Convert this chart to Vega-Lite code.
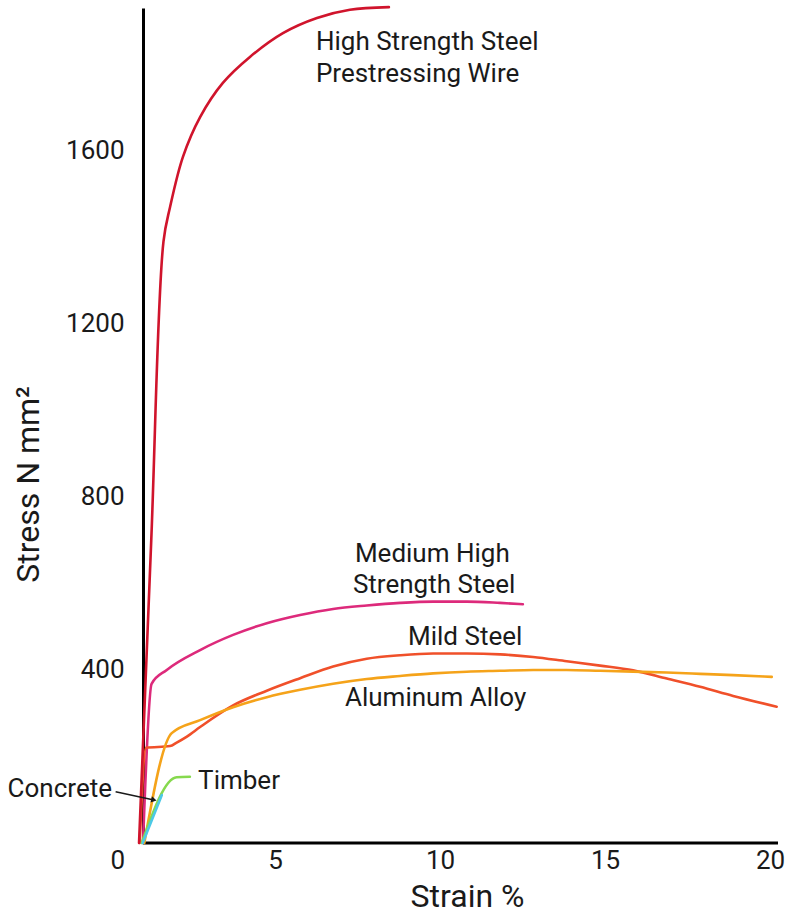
{
  "$schema": "https://vega.github.io/schema/vega-lite/v6.json",
  "width": 668,
  "height": 835,
  "autosize": {"type": "none"},
  "padding": {"left": 110, "top": 8, "right": 12, "bottom": 80},
  "background": "white",
  "config": {
    "view": {"stroke": null},
    "font": "Roboto",
    "axis": {"grid": false, "ticks": false, "tickSize": 0, "domainColor": "#000000", "domainWidth": 3, "labelFont": "Roboto", "labelFontSize": 26, "labelColor": "#1a1a1a", "titleFont": "Roboto", "titleFontSize": 32, "titleFontWeight": "normal", "titleColor": "#1a1a1a"}
  },
  "datasets": {
    "curves": [
      {"material": "High Strength Steel Prestressing Wire", "strain": 0.88, "stress": 0},
      {"material": "High Strength Steel Prestressing Wire", "strain": 1.25, "stress": 700},
      {"material": "High Strength Steel Prestressing Wire", "strain": 1.62, "stress": 1390},
      {"material": "High Strength Steel Prestressing Wire", "strain": 1.82, "stress": 1470},
      {"material": "High Strength Steel Prestressing Wire", "strain": 2.21, "stress": 1586},
      {"material": "High Strength Steel Prestressing Wire", "strain": 2.73, "stress": 1678},
      {"material": "High Strength Steel Prestressing Wire", "strain": 3.42, "stress": 1757},
      {"material": "High Strength Steel Prestressing Wire", "strain": 4.24, "stress": 1817},
      {"material": "High Strength Steel Prestressing Wire", "strain": 5.24, "stress": 1872},
      {"material": "High Strength Steel Prestressing Wire", "strain": 6.27, "stress": 1907},
      {"material": "High Strength Steel Prestressing Wire", "strain": 7.27, "stress": 1926},
      {"material": "High Strength Steel Prestressing Wire", "strain": 8.45, "stress": 1932},
      {"material": "Medium High Strength Steel", "strain": 1.0, "stress": 0},
      {"material": "Medium High Strength Steel", "strain": 1.26, "stress": 368},
      {"material": "Medium High Strength Steel", "strain": 1.72, "stress": 400},
      {"material": "Medium High Strength Steel", "strain": 2.73, "stress": 446},
      {"material": "Medium High Strength Steel", "strain": 3.73, "stress": 481},
      {"material": "Medium High Strength Steel", "strain": 4.75, "stress": 508},
      {"material": "Medium High Strength Steel", "strain": 5.76, "stress": 527},
      {"material": "Medium High Strength Steel", "strain": 6.76, "stress": 541},
      {"material": "Medium High Strength Steel", "strain": 7.78, "stress": 549},
      {"material": "Medium High Strength Steel", "strain": 8.79, "stress": 555},
      {"material": "Medium High Strength Steel", "strain": 9.79, "stress": 558},
      {"material": "Medium High Strength Steel", "strain": 10.82, "stress": 558},
      {"material": "Medium High Strength Steel", "strain": 11.82, "stress": 555},
      {"material": "Medium High Strength Steel", "strain": 12.51, "stress": 552},
      {"material": "Mild Steel", "strain": 0.9, "stress": 0},
      {"material": "Mild Steel", "strain": 1.09, "stress": 220},
      {"material": "Mild Steel", "strain": 1.82, "stress": 224},
      {"material": "Mild Steel", "strain": 2.02, "stress": 232},
      {"material": "Mild Steel", "strain": 2.33, "stress": 246},
      {"material": "Mild Steel", "strain": 2.73, "stress": 268},
      {"material": "Mild Steel", "strain": 3.73, "stress": 318},
      {"material": "Mild Steel", "strain": 4.75, "stress": 352},
      {"material": "Mild Steel", "strain": 5.76, "stress": 381},
      {"material": "Mild Steel", "strain": 6.76, "stress": 408},
      {"material": "Mild Steel", "strain": 7.78, "stress": 426},
      {"material": "Mild Steel", "strain": 8.79, "stress": 434},
      {"material": "Mild Steel", "strain": 9.79, "stress": 438},
      {"material": "Mild Steel", "strain": 10.81, "stress": 438},
      {"material": "Mild Steel", "strain": 11.82, "stress": 436},
      {"material": "Mild Steel", "strain": 12.82, "stress": 430},
      {"material": "Mild Steel", "strain": 13.84, "stress": 420},
      {"material": "Mild Steel", "strain": 14.85, "stress": 410},
      {"material": "Mild Steel", "strain": 15.85, "stress": 399},
      {"material": "Mild Steel", "strain": 16.87, "stress": 380},
      {"material": "Mild Steel", "strain": 17.88, "stress": 361},
      {"material": "Mild Steel", "strain": 18.88, "stress": 340},
      {"material": "Mild Steel", "strain": 20.2, "stress": 315},
      {"material": "Aluminum Alloy", "strain": 1.04, "stress": 0},
      {"material": "Aluminum Alloy", "strain": 1.87, "stress": 254},
      {"material": "Aluminum Alloy", "strain": 2.73, "stress": 284},
      {"material": "Aluminum Alloy", "strain": 3.73, "stress": 314},
      {"material": "Aluminum Alloy", "strain": 4.75, "stress": 337},
      {"material": "Aluminum Alloy", "strain": 5.76, "stress": 354},
      {"material": "Aluminum Alloy", "strain": 6.76, "stress": 368},
      {"material": "Aluminum Alloy", "strain": 7.78, "stress": 379},
      {"material": "Aluminum Alloy", "strain": 8.79, "stress": 386},
      {"material": "Aluminum Alloy", "strain": 9.79, "stress": 392},
      {"material": "Aluminum Alloy", "strain": 10.81, "stress": 396},
      {"material": "Aluminum Alloy", "strain": 11.82, "stress": 398},
      {"material": "Aluminum Alloy", "strain": 12.82, "stress": 400},
      {"material": "Aluminum Alloy", "strain": 13.84, "stress": 400},
      {"material": "Aluminum Alloy", "strain": 14.85, "stress": 398},
      {"material": "Aluminum Alloy", "strain": 15.85, "stress": 396},
      {"material": "Aluminum Alloy", "strain": 16.87, "stress": 394},
      {"material": "Aluminum Alloy", "strain": 17.88, "stress": 391},
      {"material": "Aluminum Alloy", "strain": 18.88, "stress": 388},
      {"material": "Aluminum Alloy", "strain": 20.05, "stress": 384},
      {"material": "Timber", "strain": 0.96, "stress": 0},
      {"material": "Timber", "strain": 2.02, "stress": 152},
      {"material": "Timber", "strain": 2.42, "stress": 153},
      {"material": "Concrete", "strain": 0.99, "stress": 0},
      {"material": "Concrete", "strain": 1.57, "stress": 111}
    ],
    "labels": [
      {"label": "High Strength Steel", "strain": 6.24, "stress": 1833},
      {"label": "Prestressing Wire", "strain": 6.24, "stress": 1759},
      {"label": "Medium High", "strain": 7.42, "stress": 650},
      {"label": "Strength Steel", "strain": 7.36, "stress": 578},
      {"label": "Mild Steel", "strain": 9.03, "stress": 458},
      {"label": "Aluminum Alloy", "strain": 7.12, "stress": 317},
      {"label": "Timber", "strain": 2.67, "stress": 125}
    ],
    "concreteLabel": [
      {"label": "Concrete", "strain": 0.06, "stress": 106}
    ],
    "arrow": [
      {"strain": 0.17, "stress": 118.6, "strainEnd": 1.33, "stressEnd": 99.4}
    ],
    "baseline": [
      {"from": 1.0, "to": 20.24, "stress": 0}
    ]
  },
  "layer": [
    {
      "data": {"name": "baseline"},
      "mark": {"type": "rule", "color": "#000000", "strokeWidth": 3},
      "encoding": {
        "x": {"field": "from", "type": "quantitative"},
        "x2": {"field": "to"},
        "y": {"field": "stress", "type": "quantitative"}
      }
    },
    {
      "data": {"name": "curves"},
      "transform": [{"filter": "datum.material !== 'High Strength Steel Prestressing Wire'"}],
      "mark": {"type": "line", "interpolate": "monotone", "strokeWidth": 2.6, "strokeCap": "round", "clip": false},
      "encoding": {
        "x": {"field": "strain", "type": "quantitative",
              "scale": {"domain": [0, 20.24], "nice": false, "zero": true},
              "axis": {"values": [0, 5, 10, 15, 20], "domain": false, "labelPadding": 4, "title": "Strain %", "titleX": 357, "titleY": 63, "titleBaseline": "alphabetic", "titleAnchor": null}},
        "y": {"field": "stress", "type": "quantitative",
              "scale": {"domain": [0, 1930], "nice": false, "zero": true},
              "axis": {"values": [400, 800, 1200, 1600], "format": "d", "offset": -33, "labelPadding": 19, "title": "Stress N mm²", "titleX": -115, "titleY": 476, "titleBaseline": "middle", "titleAlign": "center"}},
        "color": {"field": "material", "type": "nominal", "legend": null,
                  "scale": {"domain": ["High Strength Steel Prestressing Wire", "Medium High Strength Steel", "Mild Steel", "Aluminum Alloy", "Timber", "Concrete"],
                            "range": ["#d0142c", "#dd2a7b", "#f0502a", "#f5a31a", "#86d94e", "#4cc9e6"]}},
        "order": {"field": "strain", "type": "quantitative"}
      }
    },
    {
      "data": {"name": "curves"},
      "transform": [{"filter": "datum.material === 'High Strength Steel Prestressing Wire'"}],
      "mark": {"type": "line", "interpolate": "catmull-rom", "strokeWidth": 2.6, "strokeCap": "round", "clip": false},
      "encoding": {
        "x": {"field": "strain", "type": "quantitative"},
        "y": {"field": "stress", "type": "quantitative"},
        "color": {"field": "material", "type": "nominal", "legend": null},
        "order": {"field": "strain", "type": "quantitative"}
      }
    },
    {
      "data": {"name": "arrow"},
      "mark": {"type": "rule", "color": "#1a1a1a", "strokeWidth": 1.5},
      "encoding": {
        "x": {"field": "strain", "type": "quantitative"},
        "y": {"field": "stress", "type": "quantitative"},
        "x2": {"field": "strainEnd"},
        "y2": {"field": "stressEnd"}
      }
    },
    {
      "data": {"name": "arrow"},
      "mark": {"type": "point", "shape": "triangle-right", "filled": true, "color": "#1a1a1a", "size": 40, "angle": 13, "opacity": 1},
      "encoding": {
        "x": {"field": "strainEnd", "type": "quantitative"},
        "y": {"field": "stressEnd", "type": "quantitative"}
      }
    },
    {
      "data": {"name": "labels"},
      "mark": {"type": "text", "align": "left", "baseline": "alphabetic", "font": "Roboto", "fontSize": 26, "color": "#1a1a1a"},
      "encoding": {
        "x": {"field": "strain", "type": "quantitative"},
        "y": {"field": "stress", "type": "quantitative"},
        "text": {"field": "label"}
      }
    },
    {
      "data": {"name": "concreteLabel"},
      "mark": {"type": "text", "align": "right", "baseline": "alphabetic", "font": "Roboto", "fontSize": 26, "color": "#1a1a1a"},
      "encoding": {
        "x": {"field": "strain", "type": "quantitative"},
        "y": {"field": "stress", "type": "quantitative"},
        "text": {"field": "label"}
      }
    }
  ]
}
